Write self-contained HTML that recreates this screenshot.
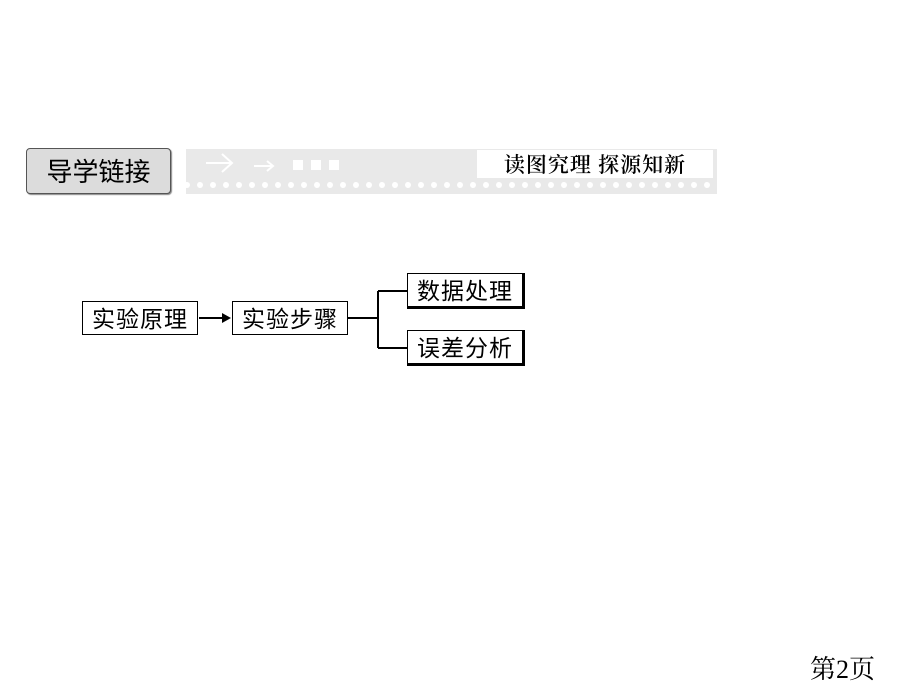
<!DOCTYPE html>
<html><head><meta charset="utf-8"><style>
body{margin:0;width:920px;height:690px;background:#fff;position:relative;overflow:hidden;font-family:"Liberation Serif","Noto Serif CJK SC","Noto Sans CJK SC",serif}
.a{position:absolute}
.box{position:absolute;border:1px solid #000;box-sizing:border-box;font-size:23px;line-height:31px;text-align:center;letter-spacing:1px;font-family:"Noto Sans CJK SC",sans-serif}
.sh{border-right:3px solid #000;border-bottom:3px solid #000}
</style></head><body>
<div class="a" style="left:26px;top:148px;width:145px;height:46px;background:#dcdcdc;border:1px solid #555;border-radius:4px;box-sizing:border-box;box-shadow:1px 1px 1px #888;font:26px 'Noto Sans CJK SC',sans-serif;line-height:44px;text-align:center">导学链接</div>
<div class="a" style="left:186px;top:149px;width:531px;height:45px;background:#e9e9e9"></div>
<svg class="a" style="left:186px;top:149px" width="160" height="30" fill="none" stroke="#fff" stroke-width="2">
<path d="M20 14H45M36 5L46 14L36 23"/><path d="M68 17H86M81 12L87 17L81 22"/>
</svg>
<div class="a" style="left:293px;top:160px;width:10px;height:10px;background:#fff"></div>
<div class="a" style="left:311px;top:160px;width:10px;height:10px;background:#fff"></div>
<div class="a" style="left:329px;top:160px;width:10px;height:10px;background:#fff"></div>
<div class="a" style="left:477px;top:150px;width:236px;height:28px;background:#fff;font:21px 'Noto Serif CJK SC',serif;font-weight:600;line-height:28px;text-align:center;letter-spacing:1px">读图究理&nbsp;探源知新</div>
<svg class="a" style="left:186px;top:178px" width="531" height="14">
<pattern id="p" width="13" height="14" patternUnits="userSpaceOnUse"><circle cx="14" cy="7" r="3" fill="#fff"/><circle cx="1" cy="7" r="3" fill="#fff"/></pattern>
<rect x="0" y="0" width="531" height="14" fill="url(#p)"/></svg>
<div class="box" style="left:82px;top:301px;width:116px;height:34px">实验原理</div>
<svg class="a" style="left:198px;top:310px" width="36" height="16"><line x1="1" y1="8" x2="26" y2="8" stroke="#000" stroke-width="2"/><polygon points="24,3 33,8 24,13" fill="#000"/></svg>
<div class="box" style="left:232px;top:301px;width:116px;height:34px">实验步骤</div>
<svg class="a" style="left:347px;top:285px" width="62" height="66"><path d="M0 33H31M31 6V63M31 6H61M31 63H61" stroke="#000" stroke-width="2" fill="none"/></svg>
<div class="box sh" style="left:407px;top:273px;width:118px;height:36px">数据处理</div>
<div class="box sh" style="left:407px;top:330px;width:118px;height:36px">误差分析</div>
<div class="a" style="left:810px;top:655px;font-size:26px;line-height:30px">第2页</div>
</body></html>
